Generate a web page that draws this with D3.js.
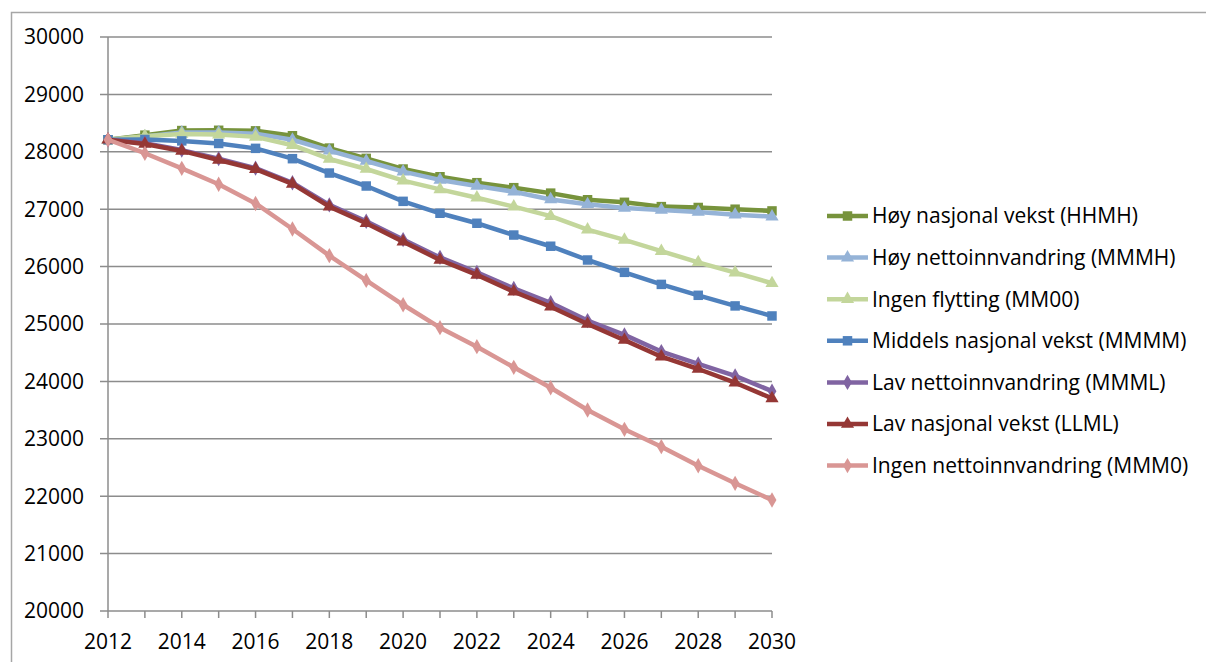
<!DOCTYPE html>
<html>
<head>
<meta charset="utf-8">
<script src="https://cdn.jsdelivr.net/npm/d3@7"></script>
<style>
  body { margin: 0; background: #fff; }
  svg text { font-family: "Open Sans", sans-serif; fill: #000; }
</style>
</head>
<body>
<svg width="1206" height="662"></svg>
<script>
// data
var years = d3.range(2012, 2031);
var yTicks = [20000, 21000, 22000, 23000, 24000, 25000, 26000, 27000, 28000, 29000, 30000];
var xLabels = [2012, 2014, 2016, 2018, 2020, 2022, 2024, 2026, 2028, 2030];

var seriesNames = [
    "Høy nasjonal vekst (HHMH)",
    "Høy nettoinnvandring (MMMH)",
    "Ingen flytting (MM00)",
    "Middels nasjonal vekst (MMMM)",
    "Lav nettoinnvandring (MMML)",
    "Lav nasjonal vekst (LLML)",
    "Ingen nettoinnvandring (MMM0)"
];

var hhmh = [28210, 28290, 28370, 28375, 28365, 28280, 28065, 27885, 27700, 27565, 27462, 27375, 27280, 27165, 27120, 27045, 27030, 27000, 26970];
var mmmh = [28210, 28265, 28335, 28335, 28315, 28210, 28020, 27840, 27655, 27510, 27405, 27305, 27170, 27085, 27020, 26985, 26950, 26905, 26870];
var mm00 = [28210, 28270, 28310, 28300, 28260, 28115, 27875, 27700, 27497, 27346, 27200, 27045, 26880, 26645, 26465, 26270, 26075, 25895, 25710];
var mmmm = [28210, 28215, 28190, 28145, 28060, 27880, 27630, 27404, 27137, 26929, 26755, 26550, 26355, 26115, 25900, 25690, 25500, 25315, 25140];
var mmml = [28210, 28150, 28030, 27880, 27715, 27460, 27075, 26790, 26470, 26160, 25900, 25620, 25370, 25060, 24810, 24520, 24305, 24095, 23830];
var llml = [28210, 28135, 28015, 27857, 27697, 27440, 27045, 26755, 26435, 26115, 25855, 25563, 25300, 25000, 24720, 24430, 24216, 23977, 23705];
var mmm0 = [28210, 27975, 27712, 27434, 27100, 26655, 26190, 25760, 25335, 24936, 24605, 24245, 23890, 23502, 23165, 22863, 22531, 22224, 21934];

var seriesValues = [hhmh, mmmh, mm00, mmmm, mmml, llml, mmm0];
var colors = ["#77933C", "#95B3D7", "#C3D69B", "#4F81BD", "#8064A2", "#953735", "#D99694"];
var markers = ["square", "triangle", "triangle", "square", "diamond", "triangle", "diamond"];

var svg = d3.select("svg");

// outer frame
svg.append("path")
    .attr("d", "M11.5,662 L11.5,12.5 L1206,12.5")
    .attr("fill", "none")
    .attr("stroke", "#a6a6a6")
    .attr("stroke-width", 1.5);

var x = d3.scaleLinear().domain([2012, 2030]).range([108, 772]);
var y = d3.scaleLinear().domain([20000, 30000]).range([611, 37]);

// gridlines + y ticks
var gy = svg.append("g").attr("class", "y-axis");
gy.selectAll("line")
    .data(yTicks)
    .enter().append("line")
    .attr("x1", 100)
    .attr("x2", 772)
    .attr("y1", function (d) { return y(d); })
    .attr("y2", function (d) { return y(d); })
    .attr("stroke", "#8c8c8c")
    .attr("stroke-width", 1.5);

gy.selectAll("text")
    .data(yTicks)
    .enter().append("text")
    .attr("x", 84)
    .attr("y", function (d) { return y(d); })
    .attr("dy", "0.35em")
    .attr("text-anchor", "end")
    .style("font-size", "21px")
    .text(function (d) { return d; });

// y axis line
svg.append("line")
    .attr("x1", 108).attr("x2", 108)
    .attr("y1", y(30000)).attr("y2", y(20000))
    .attr("stroke", "#8c8c8c")
    .attr("stroke-width", 1.5);

// x axis ticks and labels
var gx = svg.append("g").attr("class", "x-axis");
gx.selectAll("line")
    .data(years)
    .enter().append("line")
    .attr("x1", function (d) { return x(d); })
    .attr("x2", function (d) { return x(d); })
    .attr("y1", 611)
    .attr("y2", 618)
    .attr("stroke", "#8c8c8c")
    .attr("stroke-width", 1.5);

gx.selectAll("text")
    .data(xLabels)
    .enter().append("text")
    .attr("x", function (d) { return x(d); })
    .attr("y", 649)
    .attr("text-anchor", "middle")
    .style("font-size", "21px")
    .text(function (d) { return d; });

function markerPath(type) {
    if (type == "square") return d3.symbol().type(d3.symbolSquare).size(90)();
    if (type == "triangle") return d3.symbol().type(d3.symbolTriangle).size(75)();
    return d3.symbol().type(d3.symbolDiamond).size(68)();
}

var line = d3.line()
    .x(function (d, i) { return x(years[i]); })
    .y(function (d) { return y(d); });

seriesValues.forEach(function (vals, k) {
    var g = svg.append("g").attr("class", "series");
    g.append("path")
        .datum(vals)
        .attr("d", line)
        .attr("fill", "none")
        .attr("stroke", colors[k])
        .attr("stroke-width", 4.5)
        .attr("stroke-linejoin", "round");
    g.selectAll("path.mk")
        .data(vals)
        .enter().append("path")
        .attr("class", "mk")
        .attr("d", markerPath(markers[k]))
        .attr("transform", function (d, i) { return "translate(" + x(years[i]) + "," + y(d) + ")"; })
        .attr("fill", colors[k]);
});

// LEGEND
var legend = svg.append("g").attr("transform", "translate(827, 216)");
seriesNames.forEach(function (name, i) {
    var row = legend.append("g").attr("transform", "translate(0," + (i * 41.6) + ")");
    row.append("line")
        .attr("x1", 0).attr("x2", 41)
        .attr("y1", 0).attr("y2", 0)
        .attr("stroke", colors[i])
        .attr("stroke-width", 4.5);
    row.append("path")
        .attr("d", markerPath(markers[i]))
        .attr("transform", "translate(20.5,0)")
        .attr("fill", colors[i]);
    row.append("text")
        .attr("x", 45)
        .attr("y", 0)
        .attr("dy", "0.35em")
        .style("font-size", "21px")
        .text(name);
});
</script>
</body>
</html>
